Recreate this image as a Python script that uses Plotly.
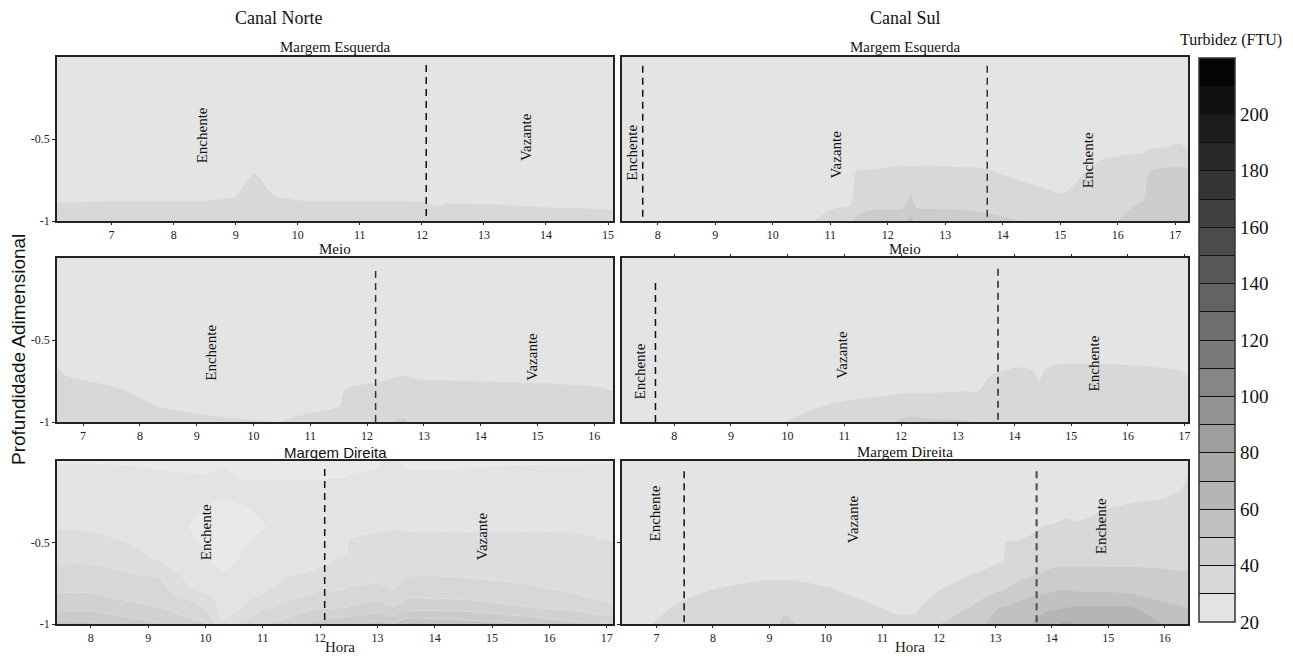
import plotly.graph_objects as go

SERIF = "Liberation Serif, Times New Roman, serif"
SANS = "Liberation Sans, Arial, sans-serif"
W, H = 1293, 657

# Grey ramps for turbidity (FTU). Contour fills sample these at band centres.
GRAY_RAMP = [[0.0, "rgb(228,228,228)"], [0.97, "rgb(0,0,0)"], [1.0, "rgb(0,0,0)"]]
GRAY_RAMP_FINE = [[0.0, "rgb(233,233,233)"], [0.97, "rgb(0,0,0)"], [1.0, "rgb(0,0,0)"]]
CBAR_MIN, CBAR_MAX, CBAR_STEP = 20, 220, 10
CBAR_LABELS = [20, 40, 60, 80, 100, 120, 140, 160, 180, 200]

# ---------------- Canal Norte - Margem Esquerda ----------------
tl_hours = [6.12, 7.0, 8.0, 8.5, 9.0, 9.3, 9.6, 10.0, 11.0, 12.0, 12.25, 12.4, 13.0, 14.0, 15.08]
tl_depth = [-1.0, -0.9, -0.8, -0.7, -0.5, 0.0]
tl_profiles = [
    [35, 31, 22, 22, 22, 22],
    [35, 32, 22, 22, 22, 22],
    [35, 32, 22, 22, 22, 22],
    [35, 32.5, 22, 22, 22, 22],
    [36, 35, 25, 22, 22, 22],
    [38, 39, 39, 29, 22, 22],
    [37, 36, 26, 22, 22, 22],
    [35, 33, 22, 22, 22, 22],
    [35, 32, 22, 22, 22, 22],
    [35, 31.5, 22, 22, 22, 22],
    [39, 29, 22, 22, 22, 22],
    [35, 30.5, 22, 22, 22, 22],
    [35, 30.2, 22, 22, 22, 22],
    [35, 29, 22, 22, 22, 22],
    [35, 28, 22, 22, 22, 22],
]

# ---------------- Canal Sul - Margem Esquerda ----------------
tr_hours = [7.38, 10.0, 10.7, 11.0, 11.35, 11.45, 11.75, 12.26, 12.4, 12.5, 12.6, 13.0,
            13.7, 14.0, 14.45, 15.03, 15.5, 15.73, 16.0, 16.45, 16.55, 16.83, 17.09, 17.22]
tr_depth = [-1.0, -0.9, -0.8, -0.7, -0.6, -0.5, -0.4, 0.0]
tr_profiles = [
    [22, 22, 22, 22, 22, 22, 22, 22],
    [24, 22, 22, 22, 22, 22, 22, 22],
    [29.5, 24, 22, 22, 22, 22, 22, 22],
    [36, 27, 23, 22, 22, 22, 22, 22],
    [38, 29.9, 24, 22, 22, 22, 22, 22],
    [41, 38, 34, 30.2, 24, 22, 22, 22],
    [44, 38, 34, 31, 24, 22, 22, 22],
    [46, 38, 35, 33, 25, 22, 22, 22],
    [53, 44, 37, 32.5, 25, 22, 22, 22],
    [47, 38, 35, 32.5, 25, 22, 22, 22],
    [46, 38, 35, 33, 25, 22, 22, 22],
    [45.5, 38, 35, 32.5, 25, 22, 22, 22],
    [42, 38, 35, 31.5, 24, 22, 22, 22],
    [41, 37, 34, 29, 23, 22, 22, 22],
    [39.5, 36, 32, 25, 22, 22, 22, 22],
    [38, 34, 28, 23, 22, 22, 22, 22],
    [38, 36, 34, 31, 24, 22, 22, 22],
    [38, 37, 35, 33, 29, 22, 22, 22],
    [40, 37.5, 35, 33, 29.8, 22, 22, 22],
    [46, 41, 37, 34, 31, 24, 22, 22],
    [48, 46, 44, 40.3, 33, 25, 22, 22],
    [48, 46, 44, 42, 34, 26, 22, 22],
    [48, 46, 44, 42, 35, 28, 22, 22],
    [48, 46, 44, 42, 32, 24, 22, 22],
]

# ---------------- Canal Norte - Meio ----------------
ml_hours = [6.54, 6.68, 7.68, 8.25, 9.11, 9.97, 10.4, 10.97, 11.51, 11.62, 12.15, 12.65,
            12.9, 14.84, 15.9, 16.33]
ml_depth = [-1.0, -0.9, -0.8, -0.7, -0.6, -0.5, 0.0]
ml_profiles = [
    [36, 35, 34, 32, 26, 22, 22],
    [36, 35, 33, 29.5, 24, 22, 22],
    [35, 33, 30.1, 25, 22, 22, 22],
    [34, 30.1, 25, 22, 22, 22, 22],
    [33, 26.3, 23, 22, 22, 22, 22],
    [31, 24, 22, 22, 22, 22, 22],
    [29.9, 24, 22, 22, 22, 22, 22],
    [33, 27.5, 23, 22, 22, 22, 22],
    [35, 29.8, 24, 22, 22, 22, 22],
    [37, 35, 30.1, 25, 22, 22, 22],
    [38, 35, 32, 27, 23, 22, 22],
    [41, 36, 34, 29, 23, 22, 22],
    [37, 35, 33, 28, 23, 22, 22],
    [36, 34, 32, 27, 23, 22, 22],
    [35, 33, 31, 26, 22, 22, 22],
    [35, 32, 29.7, 24, 22, 22, 22],
]

# ---------------- Canal Sul - Meio ----------------
mr_hours = [7.08, 9.5, 9.94, 10.30, 10.96, 11.61, 11.87, 12.14, 12.46, 13.12, 13.35, 13.58,
            14.10, 14.33, 14.43, 14.52, 14.75, 16.06, 16.95, 17.06]
mr_depth = [-1.0, -0.9, -0.8, -0.7, -0.6, -0.5, 0.0]
mr_profiles = [
    [22, 22, 22, 22, 22, 22, 22],
    [25, 22, 22, 22, 22, 22, 22],
    [29.9, 24, 22, 22, 22, 22, 22],
    [33, 27.5, 23, 22, 22, 22, 22],
    [35, 32, 24, 22, 22, 22, 22],
    [37, 34, 27, 22, 22, 22, 22],
    [39.9, 35, 27.5, 22, 22, 22, 22],
    [42, 36, 28, 22, 22, 22, 22],
    [41, 36, 28, 22, 22, 22, 22],
    [40.5, 36, 29, 22, 22, 22, 22],
    [39.5, 36, 29, 22, 22, 22, 22],
    [38, 36, 34, 29.2, 23, 22, 22],
    [38, 37, 35, 33, 24, 22, 22],
    [38, 37, 35, 30.8, 24, 22, 22],
    [37, 35, 33, 27, 23, 22, 22],
    [38, 37, 35, 30.8, 24, 22, 22],
    [38, 37, 35, 33, 27.1, 22, 22],
    [38, 37, 35, 33, 26.5, 22, 22],
    [37, 36, 34, 30.8, 24, 22, 22],
    [37, 35, 34, 29, 23, 22, 22],
]

# ---------------- Canal Norte - Margem Direita (finer 5 FTU bands) ----------------
bl_hours = [7.41, 8.0, 8.6, 9.2, 9.7, 10.0, 10.3, 10.6, 11.0, 11.4, 12.0, 12.45, 12.5,
            13.0, 13.3, 13.5, 14.5, 15.5, 16.5, 17.11]
bl_depth = [-1.0, -0.95, -0.9, -0.85, -0.8, -0.7, -0.6, -0.5, -0.4, -0.3, -0.2, -0.1, 0.0]
bl_profiles = [
    [52, 47.5, 44, 41.5, 39.8, 37, 34, 32, 29.5, 28, 27, 26, 24.8],
    [51, 47, 43.5, 42, 39.5, 37, 34, 31.5, 29.3, 28, 27, 26, 24.8],
    [48, 44.5, 42, 39.8, 38.5, 35.5, 33, 30.1, 28.5, 27.5, 27, 26, 24.7],
    [45.5, 42, 40.1, 38.5, 37, 34.5, 29.5, 28, 27.5, 27, 26.5, 25.5, 24.5],
    [42, 39.5, 37, 35.1, 31.2, 28.5, 27, 26, 25.1, 26, 26, 25.3, 24.3],
    [40.5, 37.5, 34.5, 33, 29.5, 27, 25.5, 24.5, 24, 24.8, 26, 25.2, 24.2],
    [31, 29, 28, 27.5, 27, 25.5, 23.5, 23, 23, 24, 25.5, 25.8, 24.5],
    [35.5, 32.5, 29.5, 28.5, 28, 26.5, 25.2, 24.5, 23.5, 24.5, 26, 24.9, 24],
    [40, 37, 34.5, 32, 29.5, 27.5, 26.5, 25.8, 24.8, 25.6, 26, 24.9, 24],
    [41.5, 39, 36, 34.5, 33, 29.5, 27.5, 27, 26.5, 26.2, 26, 24.9, 24],
    [47, 43.5, 39.5, 37.5, 35, 31.5, 28.5, 27.5, 27, 26.5, 26, 24.9, 24],
    [48, 44.5, 40, 37.5, 35.3, 33, 31, 28, 27.5, 27, 26, 25, 24],
    [48, 44.5, 40.5, 38, 35.5, 33.5, 32, 30.5, 28, 27.5, 26.5, 25.1, 24],
    [52, 46.5, 42.5, 39.5, 37, 33, 32, 31, 29.5, 28, 27, 25.5, 24.7],
    [51, 45.2, 40.5, 37.5, 35.3, 33, 32, 31, 29.7, 28, 27, 26, 25.3],
    [53, 48.5, 42.5, 40.3, 38, 34.5, 32.5, 31, 29.6, 28, 27, 25.5, 24.6],
    [52, 48, 42.5, 40, 38, 34.5, 32.5, 31, 29.5, 28, 27, 25.5, 24.6],
    [50.5, 45, 40.5, 38.5, 36.5, 33.5, 32, 31, 29.5, 28, 27, 25.7, 24.8],
    [46, 42, 38.5, 36, 34.5, 32.5, 31.5, 30.8, 29.5, 28, 27, 25.8, 24.8],
    [44.9, 39.5, 36, 34, 32.5, 31.5, 30.8, 30.1, 29, 28, 27, 26, 24.9],
]

# ---------------- Canal Sul - Margem Direita ----------------
br_hours = [6.39, 6.91, 7.31, 7.9, 8.88, 9.17, 9.27, 9.47, 10.19, 10.84, 11.24, 11.56, 11.83,
            12.02, 12.55, 12.81, 13.07, 13.14, 13.2, 13.46, 13.73, 13.92, 14.12, 14.25, 14.45,
            14.97, 15.43, 15.95, 16.08, 16.28, 16.41]
br_depth = [-1.0, -0.9, -0.8, -0.7, -0.6, -0.5, -0.4, -0.3, -0.2, -0.1, 0.0]
br_profiles = [
    [25, 23, 22, 22, 22, 22, 22, 22, 22, 22, 22],
    [29.9, 24, 22, 22, 22, 22, 22, 22, 22, 22, 22],
    [34, 31, 25, 22, 22, 22, 22, 22, 22, 22, 22],
    [36, 33, 30.1, 24, 22, 22, 22, 22, 22, 22, 22],
    [38, 35, 32, 29, 23, 22, 22, 22, 22, 22, 22],
    [39.9, 35.5, 32, 29, 23, 22, 22, 22, 22, 22, 22],
    [43, 37.5, 32, 29, 23, 22, 22, 22, 22, 22, 22],
    [39.9, 35.5, 32, 29, 23, 22, 22, 22, 22, 22, 22],
    [37, 34, 30.5, 26, 22, 22, 22, 22, 22, 22, 22],
    [35, 31, 26, 22, 22, 22, 22, 22, 22, 22, 22],
    [33, 28, 24, 22, 22, 22, 22, 22, 22, 22, 22],
    [33, 28, 24, 22, 22, 22, 22, 22, 22, 22, 22],
    [36, 33, 28, 23, 22, 22, 22, 22, 22, 22, 22],
    [39.9, 34, 30.5, 25, 22, 22, 22, 22, 22, 22, 22],
    [44, 40.3, 35, 30.1, 25, 22, 22, 22, 22, 22, 22],
    [49.9, 43, 38, 32, 26, 22, 22, 22, 22, 22, 22],
    [54, 50.3, 40.2, 33, 29, 22, 22, 22, 22, 22, 22],
    [54, 50.5, 40.5, 33.5, 29.2, 22, 22, 22, 22, 22, 22],
    [55, 51, 41, 36, 33, 30.2, 24, 22, 22, 22, 22],
    [57, 53, 46, 37.5, 34, 31.5, 24, 22, 22, 22, 22],
    [62, 56, 48, 40.3, 35, 32, 29, 23, 22, 22, 22],
    [66, 58.5, 49, 42, 36, 33, 30.5, 24, 22, 22, 22],
    [69.9, 59, 50.5, 43, 37, 34, 31.5, 26, 22, 22, 22],
    [72, 60, 50.5, 43, 37, 34, 32, 28, 22, 22, 22],
    [69.5, 61, 50, 43, 37, 34, 31.5, 26, 22, 22, 22],
    [66, 61, 49.5, 43, 37, 34, 32.5, 30.5, 24, 22, 22],
    [65, 60.5, 48, 43, 37, 34, 33, 31.5, 28, 23, 22],
    [59.9, 52.5, 46, 42, 37, 34, 33, 32, 29, 24, 22],
    [58, 52, 45, 41.5, 37, 34, 33, 32, 29.5, 24, 22],
    [56, 51, 44, 41, 37, 34, 33, 32, 31, 25, 22],
    [55, 49.5, 44, 41, 37, 34, 33, 32, 31.5, 31, 29],
]

# Tide reversal times (h) per panel
tl_turns = [12.07]
tr_turns = [7.74, 13.73]
ml_turns = [12.15]
mr_turns = [7.67, 13.71]
bl_turns = [12.08]
br_turns = [7.49, 13.73]

# Pixel layout helpers
LEFT_COL = [57 / W, 613 / W]
RIGHT_COL = [622 / W, 1188 / W]
ROWS = [[1 - 221 / H, 1 - 57 / H], [1 - 422 / H, 1 - 258 / H], [1 - 624 / H, 1 - 461 / H]]


def to_rows(profiles):
    return [list(r) for r in zip(*profiles)]


panels = [
    dict(hours=tl_hours, depth=tl_depth, prof=tl_profiles, xr=[6.12, 15.08], col=0, row=0,
         title="Margem Esquerda", tfont=SERIF,
         turns=[(tl_turns[0], -0.97, -0.02, "#111", 1.5)],
         labels=[("Enchente", 8.45, -0.48), ("Vazante", 13.69, -0.49)]),
    dict(hours=tr_hours, depth=tr_depth, prof=tr_profiles, xr=[7.38, 17.22], col=1, row=0,
         title="Margem Esquerda", tfont=SERIF,
         turns=[(tr_turns[0], -0.974, -0.05, "#111", 1.5), (tr_turns[1], -0.974, -0.05, "#333", 1.5)],
         labels=[("Enchente", 7.55, -0.585), ("Vazante", 11.10, -0.595), ("Enchente", 15.48, -0.63)]),
    dict(hours=ml_hours, depth=ml_depth, prof=ml_profiles, xr=[6.54, 16.33], col=0, row=1,
         title="Meio", tfont=SERIF,
         turns=[(ml_turns[0], -1.0, -0.067, "#333", 1.5)],
         labels=[("Enchente", 9.25, -0.578), ("Vazante", 14.91, -0.60)]),
    dict(hours=mr_hours, depth=mr_depth, prof=mr_profiles, xr=[7.08, 17.06], col=1, row=1,
         title="Meio", tfont=SERIF, topticks=True,
         turns=[(mr_turns[0], -1.0, -0.145, "#111", 1.5), (mr_turns[1], -0.986, -0.047, "#555", 2)],
         labels=[("Enchente", 7.39, -0.694), ("Vazante", 10.96, -0.59), ("Enchente", 15.41, -0.64)]),
    dict(hours=bl_hours, depth=bl_depth, prof=bl_profiles, xr=[7.41, 17.11], col=0, row=2,
         title="Margem Direita", tfont=SANS, fine=True,
         turns=[(bl_turns[0], -0.975, -0.025, "#111", 1.5)],
         labels=[("Enchente", 10.0, -0.434), ("Vazante", 14.83, -0.46)]),
    dict(hours=br_hours, depth=br_depth, prof=br_profiles, xr=[6.39, 16.41], col=1, row=2,
         title="Margem Direita", tfont=SERIF, yticks=True,
         turns=[(br_turns[0], -0.99, -0.05, "#111", 1.5), (br_turns[1], -0.99, -0.035, "#555", 2.2)],
         labels=[("Enchente", 6.98, -0.32), ("Vazante", 10.48, -0.357), ("Enchente", 14.87, -0.40)]),
]

fig = go.Figure()
layout = dict(width=W, height=H, margin=dict(l=0, r=0, t=0, b=0, autoexpand=False),
              font=dict(family=SERIF, color="#111"),
              paper_bgcolor="white", plot_bgcolor="white", showlegend=False)
annotations = []
shapes = []

for i, p in enumerate(panels, start=1):
    xa, ya = f"x{i}", f"y{i}"
    fine = p.get("fine", False)
    contours = dict(start=25 if fine else 30, end=220, size=5 if fine else 10,
                    coloring="fill", showlines=fine)
    line = dict(width=0.6 if fine else 0, color="rgba(255,255,255,0.35)", smoothing=0.7)
    fig.add_trace(go.Contour(
        x=p["hours"], y=p["depth"], z=to_rows(p["prof"]),
        colorscale=GRAY_RAMP_FINE if fine else GRAY_RAMP,
        autocontour=False, contours=contours, line=line,
        showscale=False, hoverinfo="skip", xaxis=xa, yaxis=ya))

    dom_x = LEFT_COL if p["col"] == 0 else RIGHT_COL
    dom_y = ROWS[p["row"]]
    layout[f"xaxis{i}"] = dict(
        domain=dom_x, range=p["xr"], anchor=ya, showgrid=False, zeroline=False,
        showline=True, linecolor="#222", linewidth=1.5,
        mirror="ticks" if p.get("topticks") else True,
        ticks="outside", ticklen=2, tickwidth=1, tickcolor="#222", tick0=0, dtick=1,
        tickfont=dict(family=SERIF, size=12, color="#222"))
    left = p["col"] == 0
    layout[f"yaxis{i}"] = dict(
        domain=dom_y, range=[-1, 0], anchor=xa, showgrid=False, zeroline=False,
        showline=True, linecolor="#222", linewidth=1.5, mirror=True,
        tickvals=[-0.5, -1], ticktext=["-0.5", "-1"],
        ticks="outside" if (left or p.get("yticks")) else "", ticklen=3, tickcolor="#222",
        showticklabels=left, tickfont=dict(family=SERIF, size=12, color="#222"))

    for hr, y0, y1, col, wdt in p["turns"]:
        shapes.append(dict(type="line", xref=xa, yref=ya, x0=hr, x1=hr, y0=y0, y1=y1,
                           line=dict(color=col, width=wdt, dash="7px,5px")))
    for txt, hx, dy in p["labels"]:
        annotations.append(dict(text=txt, x=hx, y=dy, xref=xa, yref=ya, showarrow=False,
                                textangle=-90, xanchor="center", yanchor="middle",
                                font=dict(family=SERIF, size=15, color="#111")))

    title_y = {0: 47, 1: 249, 2: 452}[p["row"]]
    annotations.append(dict(text=p["title"], x=(dom_x[0] + dom_x[1]) / 2, y=1 - title_y / H,
                            xref="paper", yref="paper", showarrow=False,
                            xanchor="center", yanchor="middle",
                            font=dict(family=p["tfont"], size=15, color="#111")))
    if p["row"] == 2:
        annotations.append(dict(text="Hora", x=(dom_x[0] + dom_x[1]) / 2 + 0.004, y=1 - 647 / H,
                                xref="paper", yref="paper", showarrow=False,
                                xanchor="center", yanchor="middle",
                                font=dict(family=SERIF, size=15, color="#222")))

# Shared turbidity colour bar: stepped grey scale from a hidden heatmap
n_steps = (CBAR_MAX - CBAR_MIN) // CBAR_STEP
step_scale = []
for k in range(n_steps):
    g = round(228 - k * (228 - 5) / (n_steps - 1))
    col = f"rgb({g},{g},{g})"
    step_scale.append([k / n_steps, col])
    step_scale.append([(k + 1) / n_steps, col])
band_edges = list(range(CBAR_MIN, CBAR_MAX + 1, CBAR_STEP))
fig.add_trace(go.Heatmap(
    x=[0, 1], y=[0, 1], z=[[CBAR_MIN, CBAR_MAX], [CBAR_MIN, CBAR_MAX]],
    zmin=CBAR_MIN, zmax=CBAR_MAX, colorscale=step_scale, hoverinfo="skip",
    xaxis="x7", yaxis="y7", showscale=True,
    colorbar=dict(thickness=36, thicknessmode="pixels", len=564 / H, lenmode="fraction",
                  x=1199 / W, xanchor="left", y=1 - 622 / H, yanchor="bottom",
                  xpad=0, ypad=0, outlinecolor="#333", outlinewidth=1.5,
                  tickmode="array", tickvals=band_edges,
                  ticktext=[str(v) if v in CBAR_LABELS else "" for v in band_edges],
                  ticks="inside", ticklen=36, tickwidth=1, tickcolor="#111",
                  tickfont=dict(family=SERIF, size=19, color="#111"))))
layout["xaxis7"] = dict(domain=[0.0, 0.001], range=[100, 101], visible=False, anchor="y7")
layout["yaxis7"] = dict(domain=[0.0, 0.001], range=[100, 101], visible=False, anchor="x7")

annotations += [
    dict(text="Canal Norte", x=278 / W, y=1 - 18 / H, xref="paper", yref="paper", showarrow=False,
         xanchor="center", yanchor="middle", font=dict(family=SERIF, size=18, color="#111")),
    dict(text="Canal Sul", x=905 / W, y=1 - 18 / H, xref="paper", yref="paper", showarrow=False,
         xanchor="center", yanchor="middle", font=dict(family=SERIF, size=18, color="#111")),
    dict(text="Profundidade Adimensional", x=18 / W, y=1 - 350 / H, xref="paper", yref="paper",
         showarrow=False, textangle=-90, xanchor="center", yanchor="middle",
         font=dict(family=SANS, size=19, color="#111")),
    dict(text="Turbidez (FTU)", x=1231 / W, y=1 - 40 / H, xref="paper", yref="paper",
         showarrow=False, xanchor="center", yanchor="middle",
         font=dict(family=SERIF, size=16, color="#111")),
]

layout["annotations"] = annotations
layout["shapes"] = shapes
fig.update_layout(**layout)
fig.write_html("out.html")
